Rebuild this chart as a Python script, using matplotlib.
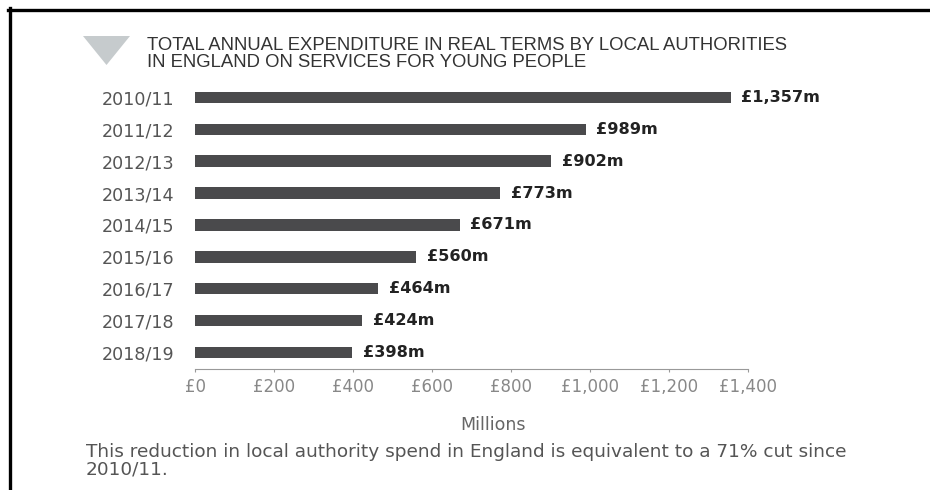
import matplotlib.pyplot as plt
from matplotlib.lines import Line2D
from matplotlib.patches import Polygon

# spending on youth services, £ millions, real terms
years = ['2010/11', '2011/12', '2012/13', '2013/14', '2014/15',
         '2015/16', '2016/17', '2017/18', '2018/19']
spend = [1357, 989, 902, 773, 671, 560, 464, 424, 398]
value_labels = ['£1,357m', '£989m', '£902m', '£773m', '£671m',
                '£560m', '£464m', '£424m', '£398m']
x_ticks = [0, 200, 400, 600, 800, 1000, 1200, 1400]
x_tick_labels = ['£0', '£200', '£400', '£600', '£800', '£1,000', '£1,200', '£1,400']

W, H = 930, 490
fig = plt.figure(figsize=(W / 100, H / 100), dpi=100)
fig.patch.set_facecolor('white')

ax = fig.add_axes([195 / W, 1 - 369 / H, (748 - 195) / W, (369 - 81.5) / H])
pos = list(range(len(years)))
ax.barh(pos, spend, height=0.36, color='#4a4a4c')
ax.set_ylim(8.52, -0.5)
ax.set_xlim(0, 1400)

for p, v, lab in zip(pos, spend, value_labels):
    ax.annotate(lab, (v, p), xytext=(7.5, 0), textcoords='offset points',
                va='center', ha='left', fontsize=11.6, fontweight='bold',
                color='#222222', family='DejaVu Sans')

ax.set_yticks(pos)
ax.set_yticklabels(years, fontsize=12.6, color='#555555', family='DejaVu Sans')
ax.tick_params(axis='y', length=0, pad=15)

ax.set_xticks(x_ticks)
ax.set_xticklabels(x_tick_labels, fontsize=12, color='#888888', family='DejaVu Sans')
ax.tick_params(axis='x', length=2.5, width=0.8, color='#999999', pad=4)

for side in ['top', 'right', 'left']:
    ax.spines[side].set_visible(False)
ax.spines['bottom'].set_color('#999999')
ax.spines['bottom'].set_linewidth(0.8)

fig.text(493 / W, 1 - 425 / H, 'Millions', ha='center', va='center',
         fontsize=12.5, color='#666666', family='DejaVu Sans')

# heading with the grey marker
fig.add_artist(Polygon([[83 / W, 1 - 36 / H], [130 / W, 1 - 36 / H], [106.5 / W, 1 - 65 / H]],
                       closed=True, transform=fig.transFigure, color='#c6cbcd', lw=0))
fig.text(147 / W, 1 - 36.5 / H,
         'TOTAL ANNUAL EXPENDITURE IN REAL TERMS BY LOCAL AUTHORITIES\n'
         'IN ENGLAND ON SERVICES FOR YOUNG PEOPLE',
         ha='left', va='top', fontsize=13.3, color='#333333',
         family='Liberation Sans', linespacing=1.03)

fig.text(86 / W, 1 - 443 / H,
         'This reduction in local authority spend in England is equivalent to a 71% cut since\n'
         '2010/11.',
         ha='left', va='top', fontsize=13.3, color='#555555',
         family='DejaVu Sans', linespacing=0.95)

# page frame
fig.add_artist(Line2D([8 / W, 1], [1 - 10 / H, 1 - 10 / H], color='black', lw=2.4,
                      transform=fig.transFigure))
fig.add_artist(Line2D([10 / W, 10 / W], [0, 1 - 8.5 / H], color='black', lw=2.4,
                      transform=fig.transFigure))

fig.savefig('out.png', dpi=100)
